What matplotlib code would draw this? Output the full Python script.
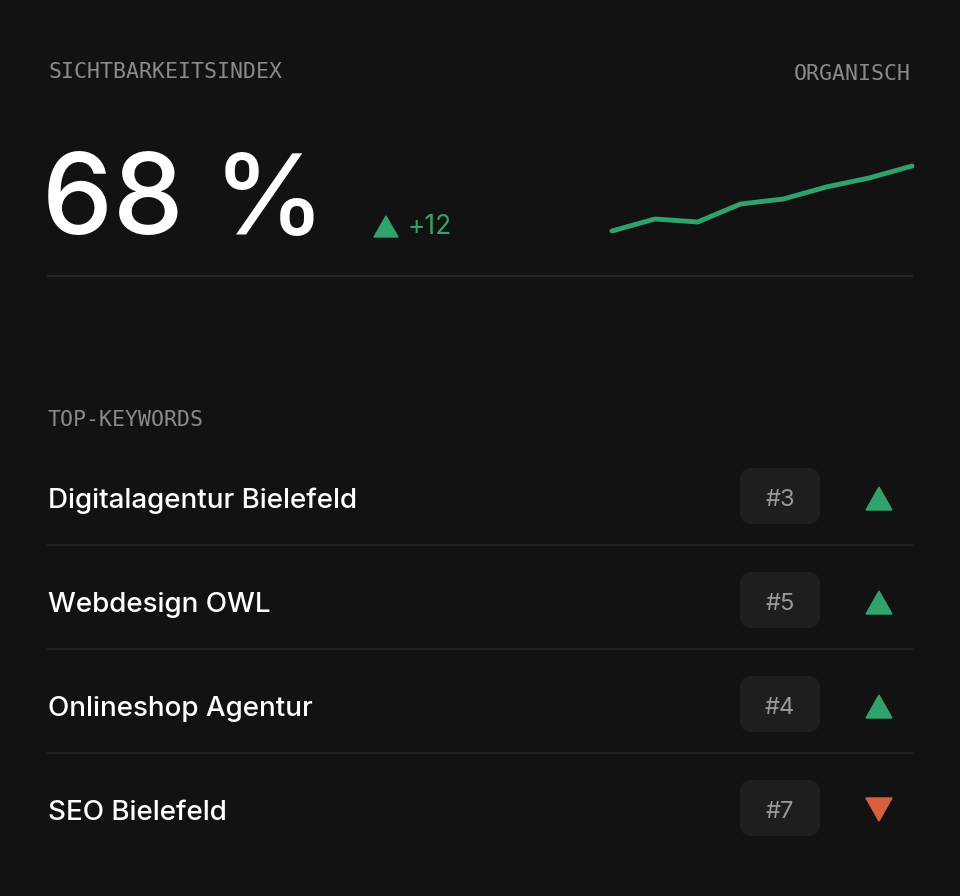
import matplotlib
matplotlib.use("Agg")
import matplotlib.pyplot as plt
from matplotlib.patches import FancyBboxPatch, Polygon

BG = "#121212"
GREEN = "#2fa36b"
RED = "#d9603f"

index_value = "68 %"
index_delta = "+12"
trend = [19, 31, 28, 46, 51, 63, 72, 84]
keywords = ["Digitalagentur Bielefeld", "Webdesign OWL", "Onlineshop Agentur", "SEO Bielefeld"]
ranks = [3, 5, 4, 7]
directions = ["up", "up", "up", "down"]

fig = plt.figure(figsize=(9.6, 8.96), dpi=100, facecolor=BG)
ax = fig.add_axes([0, 0, 1, 1])
ax.set_xlim(0, 960)
ax.set_ylim(896, 0)
ax.axis("off")
ax.set_facecolor(BG)

mono = "DejaVu Sans Mono"
sans = ["Inter", "DejaVu Sans"]

ax.text(48, 72, "SICHTBARKEITSINDEX", color="#8a8a8a", fontsize=15.5, family=mono, va="center")
ax.text(911, 74, "ORGANISCH", color="#8a8a8a", fontsize=15.5, family=mono, va="center", ha="right")
ax.text(42, 205, index_value, color="white", fontsize=81, family=sans, weight="medium", va="center")
ax.add_patch(Polygon([[374, 237], [398, 237], [386, 216]], color=GREEN))
ax.text(408, 227, index_delta, color=GREEN, fontsize=19, family=sans, va="center")
ax.plot([48, 912], [276, 276], color="#2c2c2c", lw=1.2)

ax.text(48, 420, "TOP-KEYWORDS", color="#8a8a8a", fontsize=15.5, family=mono, va="center")

for i, (kw, r, d) in enumerate(zip(keywords, ranks, directions)):
    yc = 500 + i * 104
    ax.text(48, yc + 1, kw, color="white", fontsize=20, family=sans, weight="medium", va="center")
    ax.add_patch(FancyBboxPatch((740, yc - 32), 80, 56, boxstyle="round,pad=0,rounding_size=12",
                                color="#1e1e1e", lw=0))
    ax.text(780, yc, f"#{r}", color="#9a9a9a", fontsize=17, family=sans, va="center", ha="center")
    if d == "up":
        tri = [[866, yc + 10], [892, yc + 10], [879, yc - 13]]
        col = GREEN
    else:
        tri = [[866, yc - 14], [892, yc - 14], [879, yc + 9]]
        col = RED
    ax.add_patch(Polygon(tri, color=col))
    if i < len(keywords) - 1:
        ax.plot([48, 912], [yc + 45, yc + 45], color="#262626", lw=1.2)

sp = fig.add_axes([612 / 960, (896 - 231) / 896, 300 / 960, 65 / 896])
sp.plot(range(len(trend)), trend, color=GREEN, lw=3.5, solid_capstyle="round", clip_on=False)
sp.set_xlim(0, len(trend) - 1)
sp.set_ylim(min(trend), max(trend))
sp.axis("off")

fig.savefig("out.png", dpi=100, facecolor=BG)
